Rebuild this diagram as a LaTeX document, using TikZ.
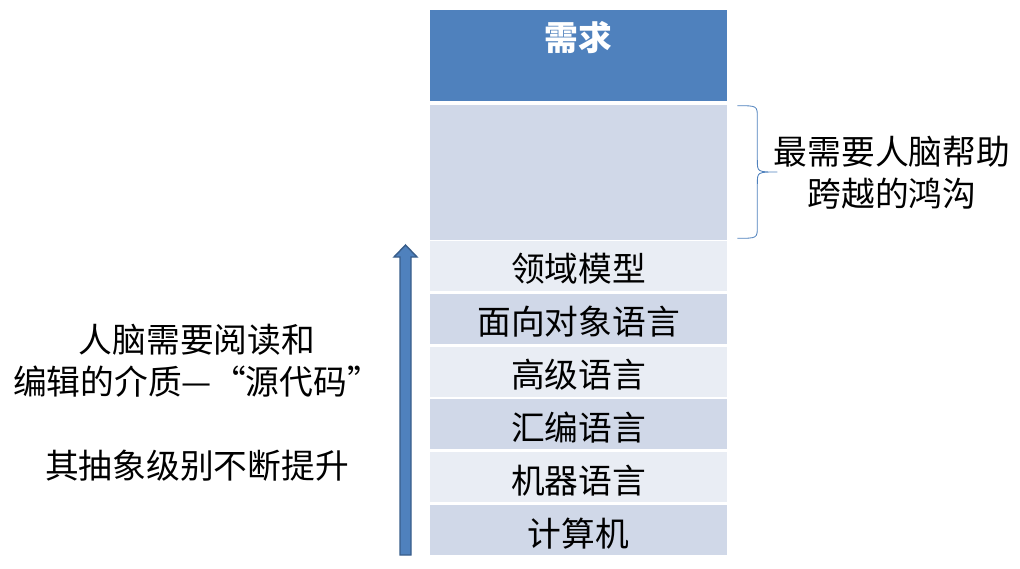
\documentclass[tikz,border=0pt]{standalone}
\usepackage{fontspec}
\setmainfont{Noto Sans CJK SC}
\usetikzlibrary{calc}
\definecolor{accent}{RGB}{79,129,189}
\definecolor{accentdark}{RGB}{56,93,138}
\definecolor{tierdark}{RGB}{208,216,232}
\definecolor{tierlight}{RGB}{233,237,244}
\begin{document}
\begin{tikzpicture}[x=0.025cm, y=-0.025cm,
  every node/.style={font=\fontsize{24}{29.8}\selectfont},
  tier/.style={minimum width=7.425cm, minimum height=1.25cm, inner sep=0pt},
  gapbrace/.style={draw=accent, line width=0.6pt}]
\useasboundingbox (0,0) rectangle (1020,568);
% top of the stack
\node[tier, fill=accent, minimum height=2.275cm] (req) at (578.5,55.5) {};
\node[text=white, font=\fontsize{24}{29.8}\selectfont\bfseries] (reqtxt) at (578.5,38) {需求};
\node[tier, fill=tierdark, minimum height=3.375cm] (gap) at (578.5,172.5) {};
% language layers
\foreach \txt/\col [count=\i] in {领域模型/tierlight, 面向对象语言/tierdark, 高级语言/tierlight,
    汇编语言/tierdark, 机器语言/tierlight, 计算机/tierdark}
  \node[tier, fill=\col] (t\i) at (578.5,{266+(\i-1)*52.8}) {\raisebox{-0.08cm}[\height][\depth]{\txt}};
% rising arrow
\filldraw[fill=accent, draw=accentdark, line width=1pt] (400,555) -- (400,257) -- (394,257) -- (405.5,245)
  -- (417,257) -- (411,257) -- (411,555) -- cycle;
% brace beside the gap
\coordinate (bt) at ($(gap.north east)+(10,1)$);
\coordinate (bb) at ($(gap.south east)+(10,-2)$);
\coordinate (tip) at ($(bt)!0.5!(bb)+(40,0)$);
\draw[gapbrace] (bt) .. controls +(20,0) .. +(20,12) -- ($(tip)+(-20,-12)$)
  .. controls +(0,12) .. (tip) .. controls +(-20,0) .. +(-20,12) -- ($(bb)+(20,-12)$)
  .. controls +(0,12) .. (bb);
\node[align=center] (gaptxt) at (892,173) {最需要人脑帮助\\跨越的鸿沟};
\node[align=center] (srctxt) at (197,403) {人脑需要阅读和\\编辑的介质—“源代码”\\[30pt]其抽象级别不断提升};
\end{tikzpicture}
\end{document}
